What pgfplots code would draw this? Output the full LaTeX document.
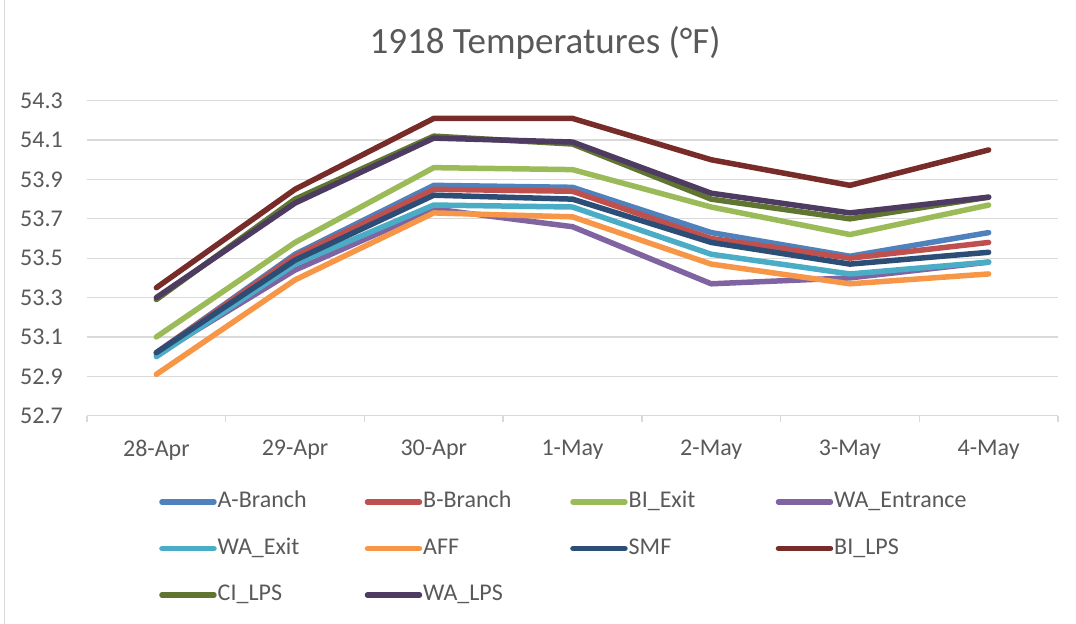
\documentclass[border=0pt]{standalone}
\usepackage{fontspec}
\setmainfont{Carlito}
\usepackage{pgfplots}
\pgfplotsset{compat=1.18}
\usepackage{pgfplotstable}
\definecolor{txt}{HTML}{595959}
\definecolor{grd}{HTML}{D9D9D9}
\definecolor{cA}{HTML}{4F81BD}
\definecolor{cB}{HTML}{C0504D}
\definecolor{cBIE}{HTML}{9BBB59}
\definecolor{cWAEn}{HTML}{8064A2}
\definecolor{cWAEx}{HTML}{4BACC6}
\definecolor{cAFF}{HTML}{F79646}
\definecolor{cSMF}{HTML}{2C4D75}
\definecolor{cBILPS}{HTML}{772C2A}
\definecolor{cCILPS}{HTML}{5F7530}
\definecolor{cWALPS}{HTML}{4D3B62}
\pgfplotstableread{
x A B BIE WAEn WAEx AFF SMF BILPS CILPS WALPS
0 53.02 53.02 53.10 53.01 53.00 52.91 53.02 53.35 53.29 53.30
1 53.52 53.51 53.58 53.44 53.47 53.39 53.49 53.85 53.80 53.78
2 53.87 53.85 53.96 53.75 53.77 53.73 53.82 54.21 54.12 54.11
3 53.86 53.84 53.95 53.66 53.76 53.71 53.80 54.21 54.08 54.09
4 53.63 53.60 53.76 53.37 53.52 53.47 53.58 54.00 53.80 53.83
5 53.51 53.50 53.62 53.40 53.42 53.37 53.47 53.87 53.70 53.73
6 53.63 53.58 53.77 53.48 53.48 53.42 53.53 54.05 53.81 53.81
}\temps
\begin{document}
\begin{tikzpicture}
\path[use as bounding box] (0bp,0bp) rectangle (1076bp,624bp);
\draw[grd, line width=1.5bp] (4.5bp,0bp) -- (4.5bp,624bp);
\begin{axis}[
  at={(87bp,208.3bp)}, anchor=south west,
  scale only axis, width=971bp, height=315bp,
  xmin=-0.5, xmax=6.5, ymin=52.7, ymax=54.3,
  xtick={0,...,6},
  xticklabels={28-Apr,29-Apr,30-Apr,1-May,2-May,3-May,4-May},
  minor xtick={-0.5,0.5,...,6.5},
  major tick length=0pt, minor tick length=6bp,
  tick align=outside, xtick pos=bottom,
  minor tick style={grd, line width=1.3bp},
  ytick={52.7,52.9,...,54.35},
  ymajorgrids, major grid style={grd, line width=1.3bp},
  axis line style={draw=none},
  extra description/.code={\draw[grd, line width=1.3bp] (0,0) -- (1,0);},
  ytick style={draw=none},
  /pgf/number format/.cd, fixed, fixed zerofill, precision=1, assume math mode=true,
  /pgfplots/.cd,
  tick label style={font=\fontsize{24bp}{28bp}\selectfont, text=txt},
  yticklabel style={anchor=east, inner sep=0pt, xshift=-24bp},
  xticklabel style={anchor=north, inner sep=0pt, yshift=-24bp},
  title={1918 Temperatures (°F)},
  title style={font=\fontsize{37bp}{42bp}\selectfont, text=txt, at={(0.4717,1.13)}, anchor=base},
  every axis plot/.append style={line width=5.5bp, line join=round, line cap=round},
  legend columns=4,
  legend image code/.code={\draw[#1, line cap=round] (0bp,0bp) -- (52bp,0bp);},
  legend style={draw=none, fill=none, at={(0.0711,-0.232)}, anchor=north west,
    font=\fontsize{24bp}{28bp}\selectfont, text=txt,
    nodes={inner sep=0pt, text height=17bp, text depth=5bp},
    row sep=24.5bp,
    /tikz/every odd column/.append style={column sep=1bp}},
]
\addplot[cA] table[x=x,y=A]{\temps}; \addlegendentry{\makebox[147bp][l]{A-Branch}}
\addplot[cB] table[x=x,y=B]{\temps}; \addlegendentry{\makebox[147bp][l]{B-Branch}}
\addplot[cBIE] table[x=x,y=BIE]{\temps}; \addlegendentry{\makebox[147bp][l]{BI\_Exit}}
\addplot[cWAEn] table[x=x,y=WAEn]{\temps}; \addlegendentry{\makebox[147bp][l]{WA\_Entrance}}
\addplot[cWAEx] table[x=x,y=WAEx]{\temps}; \addlegendentry{\makebox[147bp][l]{WA\_Exit}}
\addplot[cAFF] table[x=x,y=AFF]{\temps}; \addlegendentry{\makebox[147bp][l]{AFF}}
\addplot[cSMF] table[x=x,y=SMF]{\temps}; \addlegendentry{\makebox[147bp][l]{SMF}}
\addplot[cBILPS] table[x=x,y=BILPS]{\temps}; \addlegendentry{\makebox[147bp][l]{BI\_LPS}}
\addplot[cCILPS] table[x=x,y=CILPS]{\temps}; \addlegendentry{\makebox[147bp][l]{CI\_LPS}}
\addplot[cWALPS] table[x=x,y=WALPS]{\temps}; \addlegendentry{\makebox[147bp][l]{WA\_LPS}}
\end{axis}
\end{tikzpicture}
\end{document}
